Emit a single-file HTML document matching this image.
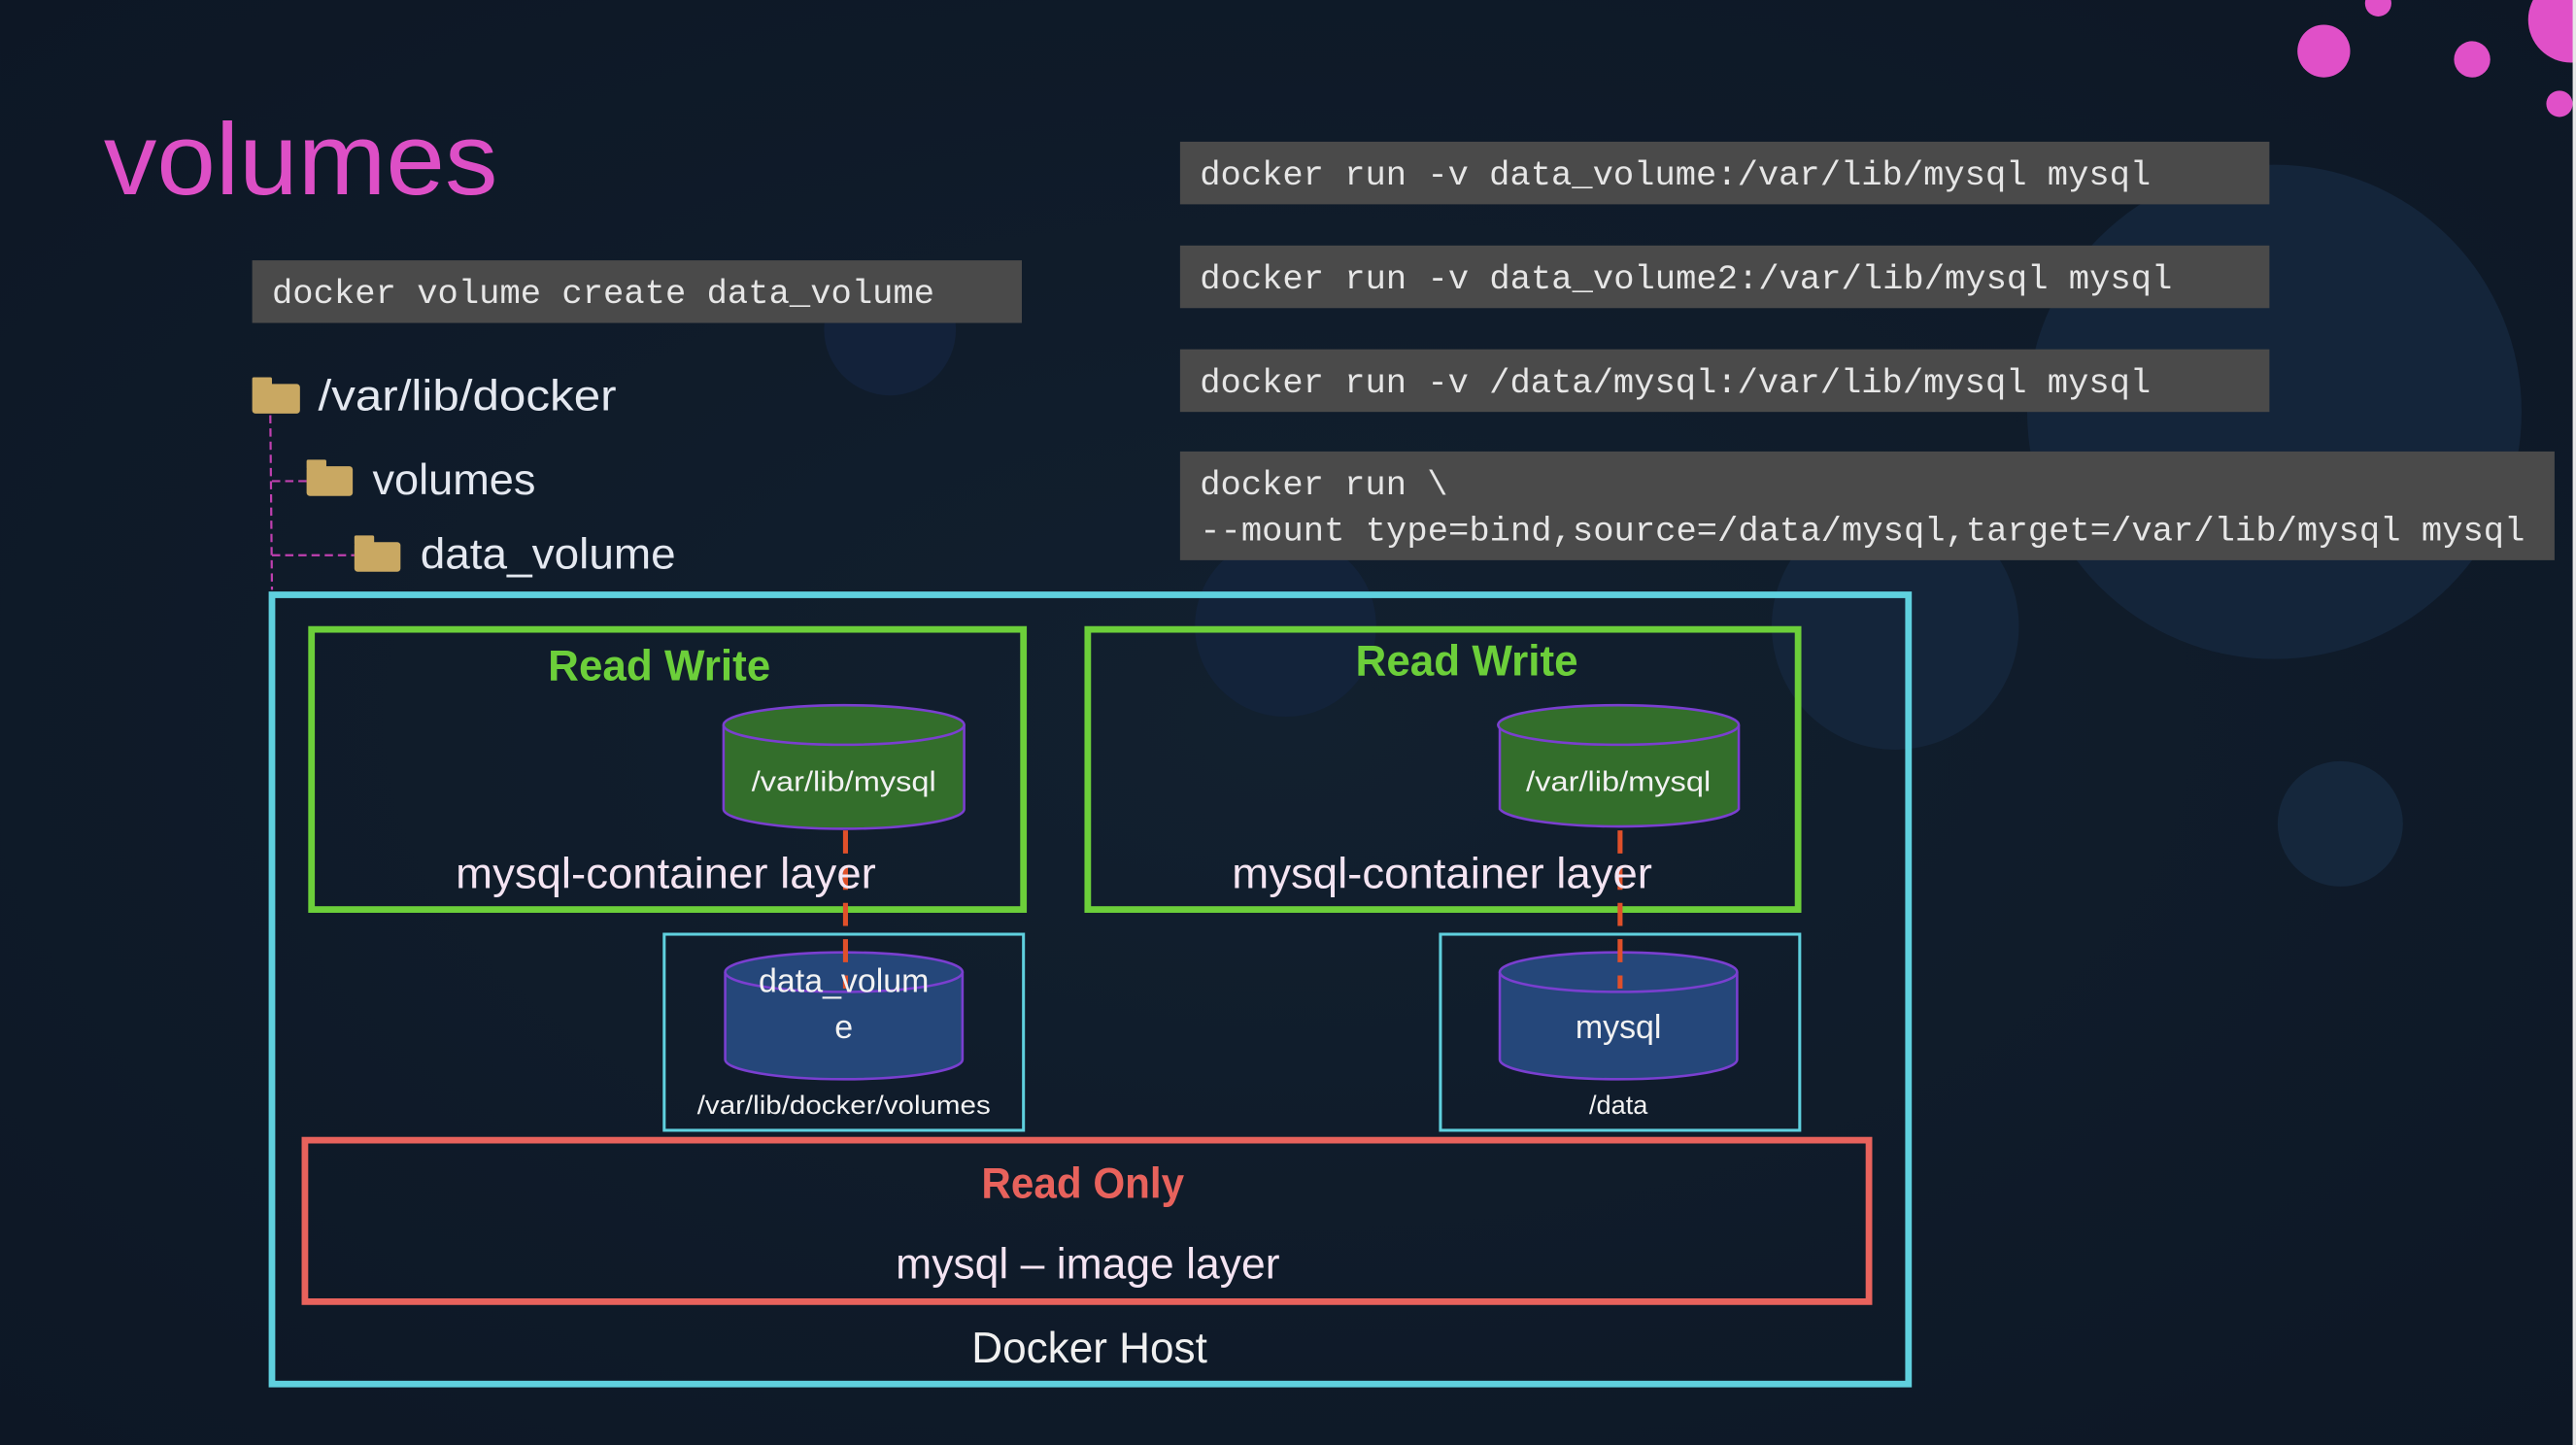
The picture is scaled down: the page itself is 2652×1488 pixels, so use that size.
<!DOCTYPE html>
<html><head><meta charset="utf-8"><style>
html,body{margin:0;padding:0;background:#0e1928;}
svg{display:block}
</style></head><body>
<svg width="2652" height="1488" viewBox="0 0 1563 877" xmlns="http://www.w3.org/2000/svg">
<defs>
<radialGradient id="bg" cx="0.5" cy="0.5" r="0.7"><stop offset="0" stop-color="#12202f"/><stop offset="1" stop-color="#0d1725"/></radialGradient>
</defs>
<rect width="1563" height="877" fill="url(#bg)"/>
<circle cx="1380" cy="250" r="150" fill="#14253a"/>
<circle cx="1150" cy="380" r="75" fill="#14253a"/>
<circle cx="780" cy="380" r="55" fill="#13233a"/>
<circle cx="1420" cy="500" r="38" fill="#15273c"/>
<circle cx="540" cy="200" r="40" fill="#13223a"/>
<circle cx="1410" cy="31" r="16" fill="#e050c8"/>
<circle cx="1500" cy="36" r="11" fill="#e050c8"/>
<circle cx="1443" cy="2" r="8" fill="#e050c8"/>
<circle cx="1553" cy="63" r="8" fill="#e050c8"/>
<circle cx="1560" cy="12" r="26" fill="#e050c8"/>
<rect x="1561" y="0" width="2" height="877" fill="#e8e8e8"/>

<text x="63" y="118" font-family="Liberation Sans, sans-serif" font-size="62" fill="#dd4fc6" textLength="239" lengthAdjust="spacingAndGlyphs">volumes</text>

<g font-family="Liberation Mono, monospace" font-size="20.9" fill="#e6e6e6">
<rect x="153" y="158" width="467" height="38" fill="#4a4a4a"/>
<text x="165" y="184" textLength="402">docker volume create data_volume</text>
<rect x="716" y="86" width="661" height="38" fill="#4a4a4a"/>
<text x="728" y="112" textLength="577">docker run -v data_volume:/var/lib/mysql mysql</text>
<rect x="716" y="149" width="661" height="38" fill="#4a4a4a"/>
<text x="728" y="175" textLength="590">docker run -v data_volume2:/var/lib/mysql mysql</text>
<rect x="716" y="212" width="661" height="38" fill="#4a4a4a"/>
<text x="728" y="238" textLength="577">docker run -v /data/mysql:/var/lib/mysql mysql</text>
<rect x="716" y="274" width="834" height="66" fill="#4a4a4a"/>
<text x="728" y="300">docker run \</text>
<text x="728" y="328" textLength="804">--mount type=bind,source=/data/mysql,target=/var/lib/mysql mysql</text>
</g>

<g stroke="#c040b0" stroke-width="1.3" stroke-dasharray="5,3" fill="none">
<line x1="164" y1="252" x2="165" y2="358"/>
<line x1="165" y1="292" x2="186" y2="292"/>
<line x1="165" y1="337" x2="215" y2="337"/>
</g>
<g fill="#c9a862">
<rect x="153" y="233" width="29" height="18" rx="2"/><rect x="153" y="229" width="12" height="6" rx="1"/>
<rect x="186" y="283" width="28" height="18" rx="2"/><rect x="186" y="279" width="12" height="6" rx="1"/>
<rect x="215" y="329" width="28" height="18" rx="2"/><rect x="215" y="325" width="12" height="6" rx="1"/>
</g>
<g font-family="Liberation Sans, sans-serif" font-size="26" fill="#e4e8f0" lengthAdjust="spacingAndGlyphs">
<text x="193" y="249" textLength="181" lengthAdjust="spacingAndGlyphs">/var/lib/docker</text>
<text x="226" y="300" textLength="99" lengthAdjust="spacingAndGlyphs">volumes</text>
<text x="255" y="345" textLength="155" lengthAdjust="spacingAndGlyphs">data_volume</text>
</g>

<rect x="165" y="361" width="993" height="479" fill="none" stroke="#5fd0de" stroke-width="4"/>
<rect x="189" y="382" width="432" height="170" fill="none" stroke="#6ccf3a" stroke-width="4"/>
<rect x="660" y="382" width="431" height="170" fill="none" stroke="#6ccf3a" stroke-width="4"/>
<rect x="403" y="567" width="218" height="119" fill="none" stroke="#5fd0de" stroke-width="1.8"/>
<rect x="874" y="567" width="218" height="119" fill="none" stroke="#5fd0de" stroke-width="1.8"/>
<rect x="185" y="692" width="949" height="98" fill="none" stroke="#e8625c" stroke-width="4"/>

<g stroke="#7a3fd0" stroke-width="1.5">
<path d="M439 440 V491 A73 12 0 0 0 585 491 V440" fill="#336e2b"/>
<ellipse cx="512" cy="440" rx="73" ry="12" fill="#336e2b"/>
<path d="M910 440 V491 A73 12 0 0 0 1055 491 V440" fill="#336e2b"/>
<ellipse cx="982" cy="440" rx="73" ry="12" fill="#336e2b"/>
<path d="M440 590 V643 A72 12 0 0 0 584 643 V590" fill="#25477a"/>
<ellipse cx="512" cy="590" rx="72" ry="12" fill="#25477a"/>
<path d="M910 590 V643 A72 12 0 0 0 1054 643 V590" fill="#25477a"/>
<ellipse cx="982" cy="590" rx="72" ry="12" fill="#25477a"/>
</g>
<g stroke="#e0502a" stroke-width="3" stroke-dasharray="14,8">
<line x1="513" y1="504" x2="513" y2="600"/>
<line x1="983" y1="504" x2="983" y2="600"/>
</g>

<g font-family="Liberation Sans, sans-serif" text-anchor="middle">
<text x="400" y="413" font-size="26" font-weight="bold" fill="#6ccf3a" textLength="135" lengthAdjust="spacingAndGlyphs">Read Write</text>
<text x="890" y="410" font-size="26" font-weight="bold" fill="#6ccf3a" textLength="135" lengthAdjust="spacingAndGlyphs">Read Write</text>
<text x="512" y="480" font-size="17" fill="#f2f2f2" textLength="112" lengthAdjust="spacingAndGlyphs">/var/lib/mysql</text>
<text x="982" y="480" font-size="17" fill="#f2f2f2" textLength="112" lengthAdjust="spacingAndGlyphs">/var/lib/mysql</text>
<text x="404" y="539" font-size="26" fill="#f4e4f2" textLength="255" lengthAdjust="spacingAndGlyphs">mysql-container layer</text>
<text x="875" y="539" font-size="26" fill="#f4e4f2" textLength="255" lengthAdjust="spacingAndGlyphs">mysql-container layer</text>
<text x="512" y="602" font-size="20" fill="#f2f2f2">data_volum</text>
<text x="512" y="630" font-size="20" fill="#f2f2f2">e</text>
<text x="982" y="630" font-size="20" fill="#f2f2f2">mysql</text>
<text x="512" y="676" font-size="16" fill="#f2f2f2" textLength="178" lengthAdjust="spacingAndGlyphs">/var/lib/docker/volumes</text>
<text x="982" y="676" font-size="16" fill="#f2f2f2">/data</text>
<text x="657" y="727" font-size="26" font-weight="bold" fill="#e8625c" textLength="123" lengthAdjust="spacingAndGlyphs">Read Only</text>
<text x="660" y="776" font-size="26" fill="#f4e4f2" textLength="233" lengthAdjust="spacingAndGlyphs">mysql – image layer</text>
<text x="661" y="827" font-size="26" fill="#f0f0f0" textLength="143" lengthAdjust="spacingAndGlyphs">Docker Host</text>
</g>
</svg>
</body></html>
